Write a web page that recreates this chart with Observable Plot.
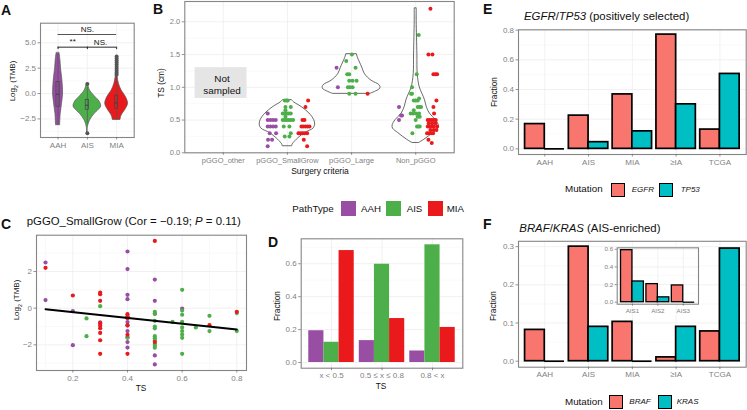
<!DOCTYPE html>
<html><head><meta charset="utf-8">
<script src="https://cdn.jsdelivr.net/npm/d3@7"></script>
<script src="https://cdn.jsdelivr.net/npm/@observablehq/plot@0.6"></script>
<style>
html,body{margin:0;padding:0;background:#fff}
#c{position:relative;width:747px;height:410px;overflow:hidden;font-family:"Liberation Sans",Arial,sans-serif;color:#111}
#c svg{position:absolute;left:0;top:0;background:transparent;overflow:visible}
.t{position:absolute;white-space:nowrap;line-height:1}
.s{position:absolute;box-sizing:border-box}
sub{font-size:.65em;line-height:0}
</style></head><body><div id="c"></div>
<script>
// ---------- shared values
const pathTypes = ["AAH","AIS","MIA"];
const pathColors = ["#984EA3","#4DAF4A","#E9191C"];
const surgery = ["pGGO_other","pGGO_SmallGrow","pGGO_Large","Non_pGGO"];
const stages = ["AAH","AIS","MIA","≥IA","TCGA"];
const tsBins = ["x < 0.5","0.5 ≤ x ≤ 0.8","0.8 < x"];
const aisSub = ["AIS1","AIS2","AIS3"];
const mutFill = ["#F8766D","#00BFC4"];

// ---------- panel A: violins as [log2TMB, half width]
const vAAH = [[3.98,.05],[3.3,.08],[2.5,.1],[1.2,.15],[0,.17],[-1,.135],[-2,.09],[-3.12,.07]];
const vAIS = [[.95,.02],[.3,.09],[-.36,.28],[-.8,.42],[-1.28,.47],[-1.7,.36],[-2,.25],[-2.66,.09],[-3.3,.02],[-3.9,.01]];
const vMIA = [[3.65,.01],[2.5,.02],[1.6,.035],[.95,.08],[.3,.17],[-.36,.32],[-1,.39],[-1.5,.32],[-2.17,.17],[-2.6,.13]];
const boxA = [[1.15,-.07,-1.3,3.9,-3.1],[-.63,-1.15,-1.6,.6,-3],[-.2,-.92,-1.5,1.68,-2.6]]; // q3, median, q1, whisker high, whisker low
const outAIS = [.95,-3.9];
const outMIA = [3.65,3.45,3.25,3.05,2.85,2.65,2.45,2.25,2.05,1.85];

// ---------- panel B: [TS, jitter] with jitter in 1/192 of a category
const jitterUnit = 1/192;
const smallAAH = [[.6,-59],[.5,-59],[.5,-51],[.5,-43],[.5,-35],[.4,-59],[.4,-51],[.4,-43],[.4,-35],[.3,-53],[.3,-34],[.2,-58],[.2,-46],[.1,-59]];
const smallAIS = [[.8,-8],[.8,-3],[.8,1],[.7,-6],[.7,10],[.65,-6],[.6,-14],[.6,-8],[.6,-2],[.6,4],[.6,10],[.55,-6],[.5,-14],[.5,-8],[.5,-2],[.5,4],[.5,10],[.5,17],[.4,-11],[.4,6],[.3,10],[.25,-8],[.25,6]];
const smallMIA = [[.8,62],[.7,54],[.5,45],[.5,51],[.4,42],[.4,48],[.4,54],[.4,60],[.4,66],[.3,33],[.3,39],[.3,45],[.3,51],[.3,59],[.2,49],[.1,59]];
const largeAAH = [[1.3,-45],[1,-41]];
const largeAIS = [[1.5,1],[1.4,-16],[1.3,12],[1.2,-13],[1.2,-7],[1.1,-7],[1.1,3],[1.1,15],[1,-11],[1,-5],[1,3],[.9,-7],[.9,12]];
const largeMIA = [[.9,48]];
const nonAAH = [[.7,-50],[.57,-41],[.57,-44],[.5,-50]];
const nonAIS = [[1.8,9],[1.2,3],[1,-11],[.9,-14],[.9,-11],[.8,-6],[.8,0],[.8,6],[.83,10],[.7,6],[.7,11],[.7,16],[.65,-6],[.6,-15],[.6,-8],[.6,1],[.6,10],[.55,6],[.55,12],[.5,0],[.4,4],[.4,8],[.4,12],[.3,-10]];
const nonMIA = [[2.2,44],[1.5,38],[1.5,50],[1.2,53],[1.2,59],[1.2,64],[.8,62],[.7,53],[.6,55],[.5,36],[.5,42],[.5,48],[.5,54],[.5,60],[.45,39],[.45,49],[.45,59],[.4,36],[.4,42],[.4,48],[.4,54],[.4,64],[.35,44],[.35,54],[.35,62],[.3,34],[.3,40],[.3,46],[.3,52],[.2,38],[.15,48]];
// violins [TS, half width in jitter units]
const vSmall = [[.8,14],[.77,20],[.7,42],[.6,66],[.5,80],[.43,83],[.37,78],[.3,52],[.2,28],[.13,16],[.1,14]];
const vLarge = [[1.5,16],[1.45,19],[1.3,32],[1.2,40],[1.1,60],[1.03,84],[.98,86],[.93,70],[.9,56]];
const vNon = [[2.2,3],[2,3],[1.5,5],[1.2,6],[1,12],[.9,20],[.8,28],[.7,33],[.6,42],[.5,60],[.42,69],[.37,68],[.3,52],[.2,26],[.15,10]];
const notSampled = [[.56,1.37,.83,1.3]];

// ---------- panel C: [TS, log2TMB]
const cAAH = [[.1,2.49],[.1,.44],[.2,-.16],[.2,-2.02],[.3,-.78],[.4,3.09],[.4,2.13],[.4,.73],[.4,.49],[.4,-.5],[.4,-.76],[.4,-.95],[.4,-1.25],[.4,-1.58],[.4,-1.85],[.4,-2.15],[.5,1.56],[.5,.4],[.5,-.31],[.5,-2.58],[.5,-3.07],[.6,-.02]];
const cAIS = [[.25,-.56],[.25,-1.53],[.3,.11],[.4,-1.62],[.5,-.2],[.5,-.3],[.5,-.69],[.5,-1],[.5,-1.1],[.5,-1.53],[.5,-1.64],[.5,-1.76],[.5,-1.95],[.5,-2.05],[.5,-2.16],[.565,-.75],[.6,1],[.6,-.13],[.6,-.36],[.6,-.75],[.6,-1.05],[.6,-1.25],[.6,-1.44],[.6,-1.62],[.6,-2.49],[.65,-1.05],[.7,-.42],[.7,-1.25],[.8,-.27],[.8,-1.25]];
const cMIA = [[.1,2.2],[.2,.69],[.3,.85],[.3,.76],[.3,.4],[.3,-.82],[.3,-.95],[.3,-1.09],[.3,-1.35],[.3,-1.75],[.3,-2.49],[.4,-.33],[.4,-.45],[.4,-.55],[.4,-.93],[.4,-1.45],[.4,-2.49],[.5,3.67],[.5,-1.85],[.7,-.93],[.8,-.2]];
const cFit = [[.1,-.06],[.8,-1.16]];

// ---------- panel D
const dAAH = [.193,.133,.07];
const dAIS = [.123,.597,.715];
const dMIA = [.68,.267,.213];

// ---------- panels E, F
const egfr = [.167,.224,.367,.77,.13];
const tp53 = [0,.045,.118,.3,.505];
const braf = [.082,.3,.103,.01,.078];
const kras = [0,.09,0,.09,.295];
const brafSub = [.59,.205,.19];
const krasSub = [.235,.055,0];

// ---------- helpers
const W = 747, H = 410;
const root = document.getElementById("c");
const GRID = "#ebebeb", MINOR = "#f3f3f3", FRAME = "#858585", TICK = "#7f7f7f";
const idx = (labels) => (d) => labels[d-1];

function panel(o){
  const fs = o.fontSize ?? 8;
  const p = Plot.plot({
    width:W, height:H, style:{background:"transparent",fontFamily:'"Liberation Sans",Arial,sans-serif'},
    marginLeft:o.l, marginRight:W-o.r, marginTop:o.t, marginBottom:H-o.b,
    x:{domain:o.xd}, y:{domain:o.yd},
    marks:[
      Plot.frame({fill:"white"}),
      Plot.gridY(o.yMinor||[],{stroke:MINOR,strokeOpacity:1,strokeWidth:.5}),
      o.xMinor?Plot.gridX(o.xMinor,{stroke:MINOR,strokeOpacity:1,strokeWidth:.5}):null,
      Plot.gridY(o.yt,{stroke:GRID,strokeOpacity:1,strokeWidth:.7}),
      Plot.gridX(o.xt,{stroke:GRID,strokeOpacity:1,strokeWidth:.7}),
      ...o.marks,
      Plot.frame({stroke:FRAME,strokeWidth:1.1}),
      Plot.axisX(o.xt,{tickFormat:o.xf,tickSize:o.tick??2.5,tickPadding:o.padX??2,fontSize:fs,label:null,fill:TICK,stroke:"#666",strokeWidth:.7}),
      Plot.axisY(o.yt,{tickFormat:o.yf,tickSize:o.tick??2.5,tickPadding:o.padY??2,fontSize:fs,label:null,fill:TICK,stroke:"#666",strokeWidth:.7})
    ]
  });
  root.appendChild(p);
}
function text(html,x,y,o={}){
  const d=document.createElement("div"); d.className="t"; d.innerHTML=html;
  const ax=o.a??"left";
  const tx=ax==="left"?"0":ax==="center"?"-50%":"-100%";
  d.style.left=x+"px"; d.style.top=y+"px";
  d.style.transform=`translate(${tx},-50%)`+(o.rot?` rotate(${o.rot}deg)`:"");
  d.style.fontSize=(o.size??8.3)+"px";
  if(o.bold) d.style.fontWeight="bold";
  if(o.color) d.style.color=o.color;
  root.appendChild(d);
}
function swatch(x,y,s,fill,stroke){
  const d=document.createElement("div"); d.className="s";
  d.style.cssText+=`left:${x}px;top:${y}px;width:${s}px;height:${s}px;background:${fill};`+(stroke?`border:1.7px solid ${stroke};`:"");
  root.appendChild(d);
}
const dotsB = (arr,cat,fill)=>Plot.dot(arr,{x:d=>cat+d[1]*jitterUnit,y:d=>d[0],r:2,fill,stroke:"none"});
const violinB = (arr,cat)=>Plot.areaX(arr,{y:d=>d[0],x1:d=>cat-d[1]*jitterUnit,x2:d=>cat+d[1]*jitterUnit,fill:"none",stroke:"#444",strokeWidth:.8,curve:"catmull-rom"});
const dotsC = (arr,fill)=>Plot.dot(arr,{x:d=>d[0],y:d=>d[1],r:2.1,fill,stroke:"none"});

// ---------- A
function violinA(arr,cat,fill){ return Plot.areaX(arr,{y:d=>d[0],x1:d=>cat-d[1],x2:d=>cat+d[1],fill,stroke:"#555",strokeWidth:.7,curve:"catmull-rom"}); }
const boxCats=[1,2,3];
panel({l:40,r:133.7,t:22.7,b:137,xd:[.4,3.6],yd:[-4.33,6.93],
  xt:[1,2,3],xf:idx(pathTypes),yt:[-2.5,0,2.5,5],yf:d3.format(".1f"),yMinor:[-3.75,-1.25,1.25,3.75,6.25],
  marks:[
    violinA(vAAH,1,pathColors[0]),violinA(vAIS,2,pathColors[1]),violinA(vMIA,3,pathColors[2]),
    Plot.ruleX(boxCats,{x:d=>d,y1:d=>boxA[d-1][3],y2:d=>boxA[d-1][4],stroke:"#555",strokeWidth:.7}),
    Plot.rect(boxCats,{x1:d=>d-.055,x2:d=>d+.055,y1:d=>boxA[d-1][2],y2:d=>boxA[d-1][0],fill:"none",stroke:"#444",strokeWidth:.7}),
    Plot.ruleY(boxCats,{x1:d=>d-.055,x2:d=>d+.055,y:d=>boxA[d-1][1],stroke:"#444",strokeWidth:1.1}),
    Plot.dot(outAIS,{x:2,y:d=>d,r:2,fill:"#555"}),
    Plot.dot(outMIA,{x:3,y:d=>d,r:2,fill:"#555"}),
    Plot.ruleY([5.82],{x1:1,x2:3,stroke:"#555",strokeWidth:1.1}),
    Plot.ruleY([4.57],{x1:1,x2:3,stroke:"#111",strokeWidth:.9}),
    Plot.ruleX([1,2,3],{x:d=>d,y1:4.57,y2:4.33,stroke:"#111",strokeWidth:.9}),
    Plot.text(["NS."],{x:2,y:6.3,fontSize:8,fill:"#111"}),
    Plot.text(["**"],{x:1.5,y:5.1,fontSize:8,fill:"#111"}),
    Plot.text(["NS."],{x:2.45,y:5.0,fontSize:8,fill:"#111"})
  ]});

// ---------- B
panel({l:184.3,r:453.7,t:1,b:152.3,xd:[.4,4.6],yd:[0,2.31],
  xt:[1,2,3,4],xf:idx(surgery),yt:[0,.5,1,1.5,2],yf:d3.format(".1f"),yMinor:[.25,.75,1.25,1.75,2.25],fontSize:7.5,
  marks:[
    violinB(vSmall,2),violinB(vLarge,3),violinB(vNon,4),
    dotsB(smallAAH,2,pathColors[0]),dotsB(smallAIS,2,pathColors[1]),dotsB(smallMIA,2,pathColors[2]),
    dotsB(largeAAH,3,pathColors[0]),dotsB(largeAIS,3,pathColors[1]),dotsB(largeMIA,3,pathColors[2]),
    dotsB(nonAAH,4,pathColors[0]),dotsB(nonAIS,4,pathColors[1]),dotsB(nonMIA,4,pathColors[2]),
    Plot.rect(notSampled,{x1:d=>d[0],x2:d=>d[1],y1:d=>d[2],y2:d=>d[3],fill:"#e5e5e5"}),
    Plot.text(["Not\nsampled"],{x:.98,y:1.047,fontSize:9.9,fill:"#111",lineHeight:1.2})
  ]});

// ---------- C
panel({l:36,r:246,t:234.7,b:370,xd:[.067,.8355],yd:[-3.4,3.98],
  xt:[.2,.4,.6,.8],xf:d3.format(".1f"),yt:[-2,0,2],yf:d3.format("d"),xMinor:[.1,.3,.5,.7],yMinor:[-3,-1,1,3],
  marks:[
    dotsC(cAAH,pathColors[0]),dotsC(cAIS,pathColors[1]),dotsC(cMIA,pathColors[2]),
    Plot.line(cFit,{x:d=>d[0],y:d=>d[1],stroke:"#000",strokeWidth:1.9})
  ]});

// ---------- D
function groupedRects(vals,offsetFrom,w,fill,stroke,sw){
  return Plot.rect(vals.map((v,i)=>({v,i})),{x1:d=>d.i+1+offsetFrom,x2:d=>d.i+1+offsetFrom+w,y1:0,y2:d=>d.v,fill,stroke:stroke||"none",strokeWidth:sw||0});
}
panel({l:300.7,r:462.3,t:238.3,b:367.7,xd:[.4,3.6],yd:[-.0346,.7515],
  xt:[1,2,3],xf:idx(tsBins),yt:[0,.2,.4,.6],yf:d3.format(".1f"),yMinor:[.1,.3,.5,.7],
  marks:[
    groupedRects(dAAH,-.45,.3,pathColors[0]),
    groupedRects(dAIS,-.15,.3,pathColors[1]),
    groupedRects(dMIA,.15,.3,pathColors[2])
  ]});

// ---------- E, F, inset
function mutBars(a,b,sw){
  const zeros=(vals,off)=>vals.map((v,i)=>({v,i})).filter(d=>d.v===0).map(d=>({x1:d.i+1+off,x2:d.i+1+off+.45}));
  return [
    groupedRects(a,-.45,.45,mutFill[0],"#000",sw),
    groupedRects(b,0,.45,mutFill[1],"#000",sw),
    Plot.ruleY(zeros(a,-.45).concat(zeros(b,0)),{x1:"x1",x2:"x2",y:0,stroke:"#000",strokeWidth:sw})
  ];
}
panel({l:518,r:745.7,t:29.3,b:154,xd:[.4,5.6],yd:[-.038,.8024],
  xt:[1,2,3,4,5],xf:idx(stages),yt:[0,.2,.4,.6,.8],yf:d3.format(".1f"),yMinor:[.1,.3,.5,.7],
  marks:mutBars(egfr,tp53,1.7)});
panel({l:518,r:745.7,t:240.8,b:366.7,xd:[.4,5.6],yd:[-.0157,.314],
  xt:[1,2,3,4,5],xf:idx(stages),yt:[0,.1,.2,.3],yf:d3.format(".1f"),yMinor:[.05,.15,.25],
  marks:mutBars(braf,kras,1.7)});
panel({l:616.7,r:698,t:247.3,b:303.7,xd:[.4,3.6],yd:[-.0227,.617],fontSize:6.2,tick:2,
  xt:[1,2,3],xf:idx(aisSub),yt:[0,.2,.4,.6],yf:d3.format(".1f"),yMinor:[.1,.3,.5],
  marks:mutBars(brafSub,krasSub,1.3)});

// ---------- text and legends
text("A",1,9.5,{size:14,bold:true});
text("B",153,8.5,{size:14,bold:true});
text("C",1,224,{size:14,bold:true});
text("D",268,241.7,{size:14,bold:true});
text("E",483,9,{size:14,bold:true});
text("F",483,224,{size:14,bold:true});

text("Log<sub>2</sub> (TMB)",13,81,{a:"center",rot:-90,size:8});
text("TS (cm)",161,83,{a:"center",rot:-90});
text("Surgery criteria",320,171,{a:"center",size:8.5});
text("pGGO_SmallGrow (Cor = −0.19; <i>P</i> = 0.11)",26.7,222.3,{size:11.4});
text("Log<sub>2</sub> (TMB)",16.7,300,{a:"center",rot:-90,size:8});
text("TS",141,387.7,{a:"center"});
text("Fraction",276.7,306,{a:"center",rot:-90});
text("TS",381,386,{a:"center"});
text("<i>EGFR</i>/<i>TP53</i> (positively selected)",524,17.3,{size:11.4});
text("Fraction",494,91.7,{a:"center",rot:-90});
text("<i>BRAF</i>/<i>KRAS</i> (AIS-enriched)",519.3,229,{size:11.4});
text("Fraction",493,305.7,{a:"center",rot:-90});

text("PathType",292.3,209,{size:9.8});
[[341,361],[386,406.7],[427.7,446.7]].forEach(([sx,tx],i)=>{
  swatch(sx,200.7,15,pathColors[i]);
  text(pathTypes[i],tx,209,{size:9.7});
});
text("Mutation",565,189,{size:9.8});
swatch(610.7,182.7,14,mutFill[0],"#000"); text("<i>EGFR</i>",631.7,189.5,{size:8});
swatch(659,182.7,14,mutFill[1],"#000"); text("<i>TP53</i>",680.7,189.5,{size:8});
text("Mutation",565,401.7,{size:9.8});
swatch(609.3,395,14,mutFill[0],"#000"); text("<i>BRAF</i>",629.3,402,{size:8});
swatch(657.7,395,14,mutFill[1],"#000"); text("<i>KRAS</i>",676.7,402,{size:8});
</script></body></html>
